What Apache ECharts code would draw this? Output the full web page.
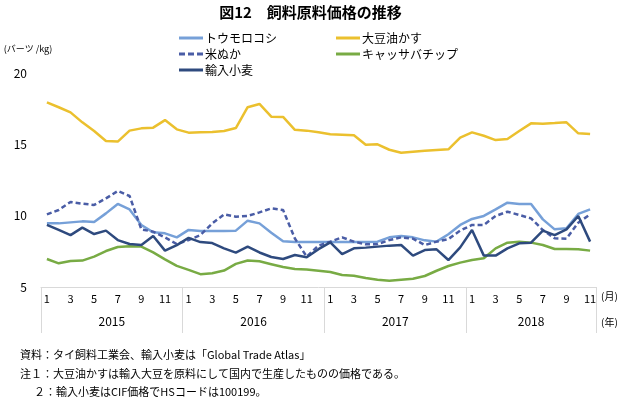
<!DOCTYPE html>
<html>
<head>
<meta charset="utf-8">
<script src="https://cdn.jsdelivr.net/npm/echarts@6/dist/echarts.min.js"></script>
<style>
  html, body { margin: 0; padding: 0; background: #fff; }
  #chart { width: 621px; height: 397px; }
</style>
</head>
<body>
<div id="chart"></div>
<script>
// 飼料原料価格の推移（2015年1月〜2018年11月）
var years = ['2015', '2016', '2017', '2018'];
var months = [];
for (var y = 0; y < 4; y++) {
  for (var m = 1; m <= 12; m++) {
    if (y === 3 && m === 12) break;
    months.push(String(m));
  }
}

var corn = [9.46, 9.46, 9.53, 9.6, 9.56, 10.16, 10.82, 10.44, 9.35, 8.83, 8.76, 8.48,
  9.0, 8.93, 8.93, 8.93, 8.95, 9.65, 9.46, 8.8, 8.2, 8.15, 8.15, 8.15,
  8.15, 8.15, 8.15, 8.15, 8.18, 8.48, 8.57, 8.48, 8.27, 8.18, 8.7, 9.35,
  9.77, 9.98, 10.44, 10.91, 10.82, 10.82, 9.74, 9.04, 9.11, 10.12, 10.44];
var soyMeal = [17.94, 17.6, 17.24, 16.54, 15.93, 15.23, 15.19, 15.96, 16.12, 16.17, 16.7, 16.05,
  15.82, 15.84, 15.86, 15.93, 16.14, 17.6, 17.83, 16.94, 16.92, 16.02, 15.96, 15.84,
  15.7, 15.68, 15.63, 14.97, 15.0, 14.62, 14.41, 14.48, 14.55, 14.6, 14.65, 15.47,
  15.84, 15.6, 15.3, 15.37, 15.93, 16.47, 16.45, 16.49, 16.54, 15.77, 15.72];
var riceBran = [10.09, 10.4, 10.96, 10.84, 10.75, 11.21, 11.73, 11.38, 9.04, 8.88, 8.48, 8.01,
  8.29, 8.64, 9.46, 10.09, 9.93, 9.98, 10.23, 10.51, 10.4, 8.4, 7.13, 7.9,
  8.18, 8.48, 8.18, 7.99, 8.01, 8.29, 8.48, 8.39, 7.94, 8.18, 8.36, 8.95,
  9.35, 9.35, 9.98, 10.28, 10.05, 9.81, 8.99, 8.41, 8.39, 9.51, 10.09];
var cassava = [6.96, 6.66, 6.82, 6.85, 7.13, 7.52, 7.8, 7.85, 7.83, 7.43, 6.94, 6.48,
  6.2, 5.9, 5.97, 6.15, 6.62, 6.86, 6.8, 6.6, 6.4, 6.26, 6.22, 6.14,
  6.05, 5.84, 5.79, 5.63, 5.51, 5.44, 5.51, 5.58, 5.77, 6.14, 6.47, 6.71,
  6.89, 7.01, 7.71, 8.11, 8.18, 8.11, 7.94, 7.66, 7.66, 7.64, 7.55];
var wheat = [9.35, 9.0, 8.64, 9.16, 8.71, 8.95, 8.29, 8.01, 7.94, 8.57, 7.55, 7.94,
  8.44, 8.15, 8.08, 7.71, 7.41, 7.83, 7.42, 7.1, 6.96, 7.24, 7.08, 7.65,
  8.13, 7.31, 7.71, 7.76, 7.83, 7.9, 7.94, 7.2, 7.59, 7.64, 6.89, 7.78,
  9.0, 7.2, 7.2, 7.71, 8.06, 8.11, 8.95, 8.64, 9.04, 9.98, 8.18];

var yTicks = [5, 20, 5]; // min, max, interval
var font = '"Noto Sans CJK JP", "Noto Sans", sans-serif';

// 凡例アイコン（実線・破線）
var solidIcon = 'path://M0,0H24V3H0Z';
var dashIcon = 'path://M0,0H6V3H0Z M9,0H15V3H9Z M18,0H24V3H18Z';

var chart = echarts.init(document.getElementById('chart'));

function line(name, data, color, dashed) {
  return {
    name: name,
    type: 'line',
    data: data,
    symbol: 'none',
    smooth: false,
    lineStyle: { color: color, width: 2.5, type: dashed ? [5, 3] : 'solid' },
    itemStyle: { color: color }
  };
}

function note(id, x, y, text) {
  return { id: id, type: 'text', left: x, top: y, style: { text: text, fontSize: 11, fill: '#000', fontFamily: font } };
}

var legendText = { fontSize: 12, color: '#000', lineHeight: 16, fontFamily: font, padding: [0, 0, 0, -3] };

var option = {
  animation: false,
  textStyle: { fontFamily: font },
  title: {
    text: '図12　飼料原料価格の推移',
    left: 'center',
    top: 0,
    textStyle: { fontSize: 15, fontWeight: 'bold', color: '#000', fontFamily: font }
  },
  legend: [{
    orient: 'vertical',
    left: 174,
    top: 25,
    itemWidth: 24,
    itemHeight: 3,
    itemGap: 0,
    textStyle: legendText,
    data: [
      { name: 'トウモロコシ', icon: solidIcon },
      { name: '米ぬか', icon: dashIcon },
      { name: '輸入小麦', icon: solidIcon }
    ]
  }, {
    orient: 'vertical',
    left: 331,
    top: 25,
    itemWidth: 24,
    itemHeight: 3,
    itemGap: 0,
    textStyle: legendText,
    data: [
      { name: '大豆油かす', icon: solidIcon },
      { name: 'キャッサバチップ', icon: solidIcon }
    ]
  }],
  grid: { left: 41, right: 25, top: 73, bottom: 110 },
  xAxis: [{
    // 月ラベル
    type: 'category',
    position: 'bottom',
    data: months,
    boundaryGap: true,
    axisLine: { lineStyle: { color: '#d9d9d9', width: 1 } },
    axisTick: { show: false },
    axisLabel: { interval: 1, margin: 6, fontSize: 11, color: '#000', fontFamily: font }
  }, {
    // 年の区切り線
    type: 'value',
    position: 'bottom',
    min: 0,
    max: months.length,
    axisLine: { show: false },
    splitLine: { show: false },
    axisTick: {
      show: true,
      customValues: [0, 12, 24, 36, months.length],
      length: 46,
      lineStyle: { color: '#d9d9d9', width: 1 }
    },
    axisLabel: { show: false }
  }],
  yAxis: {
    type: 'value',
    min: yTicks[0],
    max: yTicks[1],
    interval: yTicks[2],
    axisLine: { show: false },
    axisTick: { show: false },
    splitLine: { show: false },
    axisLabel: { fontSize: 12, color: '#000', margin: 14, fontFamily: font },
    name: '(バーツ /kg)',
    nameLocation: 'end',
    nameGap: 20,
    nameTextStyle: { fontSize: 9, color: '#000', align: 'center', padding: [0, 26, 0, 0], fontFamily: font }
  },
  series: [
    line('トウモロコシ', corn, '#76A0D8', false),
    line('大豆油かす', soyMeal, '#EBC02E', false),
    line('米ぬか', riceBran, '#4A5DA6', true),
    line('キャッサバチップ', cassava, '#78AB44', false),
    line('輸入小麦', wheat, '#2E4A7E', false)
  ],
  graphic: [
    { id: 'unitM', type: 'text', left: 601, top: 291, style: { text: '(月)', fontSize: 10, fill: '#000', fontFamily: font } },
    { id: 'unitY', type: 'text', left: 601, top: 317, style: { text: '(年)', fontSize: 10, fill: '#000', fontFamily: font } },
    note('n1', 20, 349, '資料：タイ飼料工業会、輸入小麦は「Global Trade Atlas」'),
    note('n2', 20, 368, '注１：大豆油かすは輸入大豆を原料にして国内で生産したものの価格である。'),
    note('n3', 34, 386, '２：輸入小麦はCIF価格でHSコードは100199。')
  ]
};
chart.setOption(option);

// 年ラベル：区切り（値軸）の位置から各年の中央に配置
var axisY = chart.convertToPixel({ yAxisIndex: 0 }, yTicks[0]);
var yearLabels = years.map(function (yr, k) {
  var from = k * 12;
  var to = Math.min(k * 12 + 12, months.length);
  var cx = (chart.convertToPixel({ xAxisIndex: 1 }, from) + chart.convertToPixel({ xAxisIndex: 1 }, to)) / 2;
  return {
    id: 'year' + k,
    type: 'text',
    x: cx,
    y: axisY + 34,
    style: { text: yr, fontSize: 12, fill: '#000', fontFamily: font, align: 'center', verticalAlign: 'middle' }
  };
});
chart.setOption({ graphic: yearLabels });
</script>
</body>
</html>
